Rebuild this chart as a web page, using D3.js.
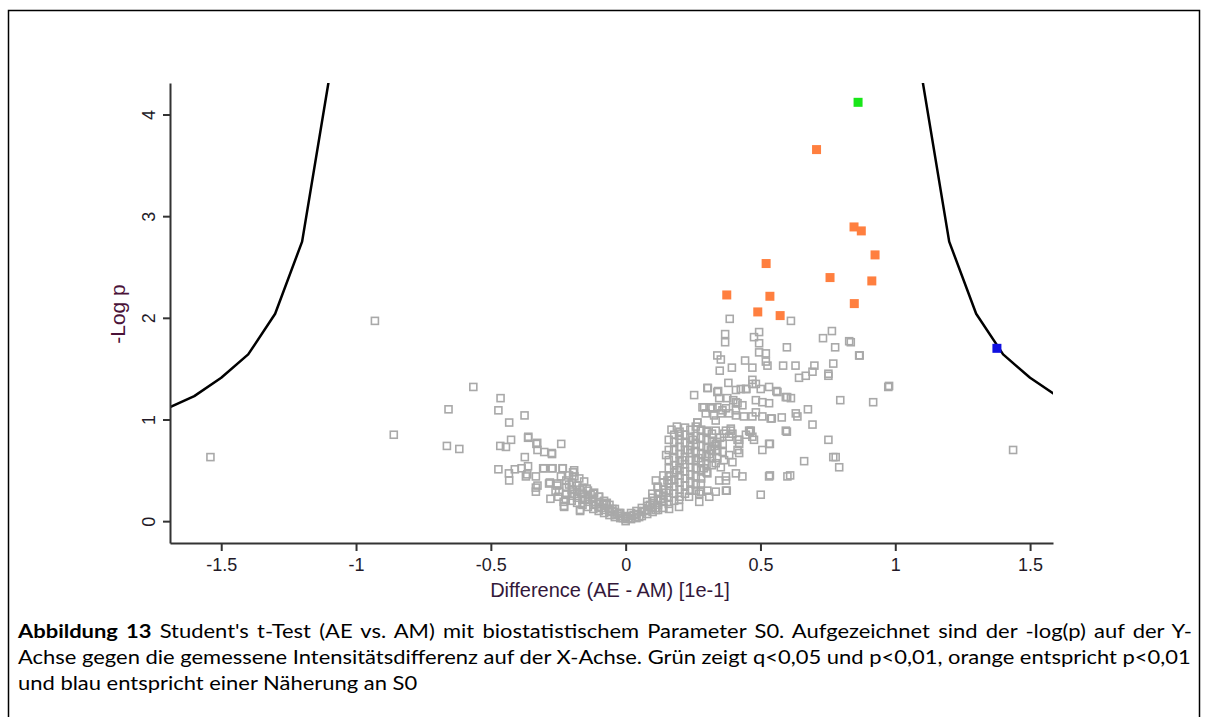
<!DOCTYPE html>
<html>
<head>
<meta charset="utf-8">
<script src="https://cdn.jsdelivr.net/npm/d3@7"></script>
<style>
  body { margin: 0; background: #fff; }
  svg { display: block; }
</style>
</head>
<body>
<script>
// x ticks and y ticks as printed
const xTicks = [-1.5, -1, -0.5, 0, 0.5, 1, 1.5];
const yTicks = [0, 1, 2, 3, 4];

// S0 curve, left and right branch (x, -log p)
const curveLeft = [[-1.7, 1.11], [-1.6, 1.23], [-1.5, 1.41], [-1.4, 1.64], [-1.3, 2.04], [-1.2, 2.75], [-1.1, 4.35]];
const curveRight = [[1.1, 4.35], [1.2, 2.75], [1.3, 2.04], [1.4, 1.64], [1.5, 1.41], [1.6, 1.23], [1.7, 1.11]];

// significant points
const greenPoints = [[0.862, 4.12]];
const bluePoints = [[1.377, 1.70]];
const orangePoints = [
  [0.708, 3.655], [0.847, 2.894], [0.874, 2.855], [0.925, 2.619], [0.521, 2.534], [0.758, 2.396],
  [0.913, 2.363], [0.375, 2.225], [0.535, 2.212], [0.848, 2.14], [0.49, 2.058], [0.573, 2.022]
];

// non significant proteins
const grayPoints = [
  [-1.54, 0.63], [-0.93, 1.97], [-0.86, 0.85],
  [-0.565, 1.32], [-0.657, 1.10], [-0.464, 1.21], [-0.472, 1.09], [-0.432, 0.97], [-0.375, 1.04],
  [-0.663, 0.74], [-0.617, 0.71], [-0.465, 0.74], [-0.444, 0.73], [-0.425, 0.80], [-0.362, 0.82],
  [-0.331, 0.76], [-0.327, 0.70], [-0.302, 0.68], [-0.273, 0.66], [-0.239, 0.76], [-0.374, 0.63],
  [-0.472, 0.51], [-0.433, 0.47], [-0.432, 0.40], [-0.411, 0.51], [-0.386, 0.52], [-0.362, 0.54],
  [-0.365, 0.46], [-0.370, 0.44], [-0.333, 0.33], [-0.333, 0.29], [-0.303, 0.52], [-0.271, 0.52],
  [-0.233, 0.52], [-0.281, 0.38], [-0.279, 0.22], [-0.254, 0.35], [-0.229, 0.15], [-0.169, 0.10],
  [-0.195, 0.48], [-0.172, 0.42], [-0.154, 0.39], [-0.144, 0.32], [-0.117, 0.28], [-0.098, 0.24],
  [-0.073, 0.17], [-0.049, 0.12], [-0.024, 0.08], [0.0, 0.04],
  [-0.361, 0.83], [-0.328, 0.77], [-0.274, 0.67], [-0.333, 0.44], [-0.327, 0.35], [-0.306, 0.52],
  [-0.274, 0.52], [-0.234, 0.52], [-0.284, 0.37], [-0.253, 0.37], [-0.247, 0.29], [-0.222, 0.21],
  [-0.228, 0.14], [-0.191, 0.50], [-0.169, 0.11],
  // left arm of the V
  [-0.22, 0.40], [-0.22, 0.33], [-0.22, 0.27],
  [-0.20, 0.38], [-0.20, 0.31], [-0.20, 0.25], [-0.20, 0.20],
  [-0.18, 0.35], [-0.18, 0.29], [-0.18, 0.23], [-0.18, 0.18],
  [-0.16, 0.33], [-0.16, 0.27], [-0.16, 0.21], [-0.16, 0.16],
  [-0.14, 0.30], [-0.14, 0.24], [-0.14, 0.19], [-0.14, 0.14],
  [-0.12, 0.27], [-0.12, 0.22], [-0.12, 0.16], [-0.12, 0.12],
  [-0.10, 0.24], [-0.10, 0.19], [-0.10, 0.14], [-0.10, 0.10],
  [-0.08, 0.20], [-0.08, 0.16], [-0.08, 0.11], [-0.08, 0.08],
  [-0.06, 0.16], [-0.06, 0.12], [-0.06, 0.09], [-0.06, 0.06],
  [-0.04, 0.12], [-0.04, 0.09], [-0.04, 0.06], [-0.04, 0.04],
  [-0.02, 0.08], [-0.02, 0.05], [-0.02, 0.03],
  [0.00, 0.05], [0.00, 0.02], [0.00, 0.00],
  [-0.21, 0.36], [-0.19, 0.27], [-0.17, 0.31], [-0.15, 0.22], [-0.13, 0.26], [-0.11, 0.17],
  [-0.09, 0.13], [-0.07, 0.18], [-0.05, 0.10], [-0.03, 0.07], [-0.01, 0.03], [-0.26, 0.30],
  [-0.25, 0.24], [-0.24, 0.44], [-0.21, 0.45], [-0.19, 0.44], [-0.23, 0.19],
  // right arm of the V
  [0.02, 0.02], [0.02, 0.05], [0.02, 0.08],
  [0.04, 0.03], [0.04, 0.07], [0.04, 0.10],
  [0.06, 0.05], [0.06, 0.09], [0.06, 0.13],
  [0.08, 0.07], [0.08, 0.11], [0.08, 0.15], [0.08, 0.19],
  [0.10, 0.09], [0.10, 0.14], [0.10, 0.18], [0.10, 0.23],
  [0.12, 0.11], [0.12, 0.16], [0.12, 0.21], [0.12, 0.27], [0.12, 0.33],
  [0.14, 0.13], [0.14, 0.19], [0.14, 0.25], [0.14, 0.31], [0.14, 0.38], [0.14, 0.45],
  [0.16, 0.17], [0.16, 0.23], [0.16, 0.30], [0.16, 0.37], [0.16, 0.44], [0.16, 0.52], [0.16, 0.60], [0.16, 0.70], [0.16, 0.80],
  [0.18, 0.20], [0.18, 0.27], [0.18, 0.34], [0.18, 0.41], [0.18, 0.48], [0.18, 0.55], [0.18, 0.62], [0.18, 0.70], [0.18, 0.78], [0.18, 0.85],
  [0.20, 0.24], [0.20, 0.31], [0.20, 0.38], [0.20, 0.45], [0.20, 0.52], [0.20, 0.59], [0.20, 0.66], [0.20, 0.73], [0.20, 0.80], [0.20, 0.88],
  [0.22, 0.27], [0.22, 0.35], [0.22, 0.42], [0.22, 0.49], [0.22, 0.56], [0.22, 0.63], [0.22, 0.70], [0.22, 0.77], [0.22, 0.85], [0.22, 0.92],
  [0.24, 0.30], [0.24, 0.38], [0.24, 0.46], [0.24, 0.53], [0.24, 0.60], [0.24, 0.67], [0.24, 0.74], [0.24, 0.82], [0.24, 0.90],
  [0.26, 0.36], [0.26, 0.44], [0.26, 0.52], [0.26, 0.60], [0.26, 0.68], [0.26, 0.76], [0.26, 0.84], [0.26, 0.93],
  [0.28, 0.42], [0.28, 0.50], [0.28, 0.58], [0.28, 0.66], [0.28, 0.74], [0.28, 0.82], [0.28, 0.90],
  [0.30, 0.48], [0.30, 0.56], [0.30, 0.64], [0.30, 0.72], [0.30, 0.80], [0.30, 0.88],
  [0.32, 0.55], [0.32, 0.62], [0.32, 0.70], [0.32, 0.78], [0.32, 0.86],
  [0.34, 0.62], [0.34, 0.70], [0.34, 0.78],
  [0.36, 0.68], [0.36, 0.76],
  [0.01, 0.03], [0.03, 0.06], [0.05, 0.04], [0.07, 0.10], [0.09, 0.16], [0.11, 0.13], [0.13, 0.22],
  [0.15, 0.28], [0.17, 0.40], [0.19, 0.50], [0.21, 0.60], [0.23, 0.70], [0.25, 0.80], [0.27, 0.62],
  [0.29, 0.52], [0.31, 0.66], [0.33, 0.74], [0.35, 0.82], [0.15, 0.65], [0.17, 0.90], [0.19, 0.93],
  // shoulder edges
  [0.303, 0.30], [0.347, 0.40], [0.353, 0.53], [0.365, 0.60], [0.384, 0.65], [0.421, 0.76], [0.415, 0.70],
  [0.365, 0.86], [0.39, 0.89], [0.446, 0.85], [0.464, 0.89], [0.334, 0.76], [0.316, 0.70], [0.334, 0.57],
  [0.303, 0.47], [0.279, 0.37], [0.260, 0.30], [0.235, 0.24], [0.198, 0.21], [0.161, 0.12], [0.112, 0.11],
  [0.155, 0.40], [0.112, 0.40], [0.118, 0.34], [0.099, 0.27],
  // upper part of the right cloud
  [0.254, 1.24], [0.303, 1.31], [0.340, 1.27], [0.381, 1.36], [0.409, 1.29], [0.446, 1.30], [0.470, 1.35],
  [0.501, 1.30], [0.532, 1.32], [0.563, 1.27], [0.594, 1.22], [0.377, 1.21], [0.409, 1.17], [0.433, 1.14],
  [0.483, 1.19], [0.507, 1.17], [0.532, 1.16], [0.291, 1.12], [0.316, 1.12], [0.340, 1.12], [0.372, 1.11],
  [0.297, 1.06], [0.328, 1.04], [0.353, 1.06], [0.384, 1.06], [0.409, 1.04], [0.439, 1.03], [0.470, 1.03],
  [0.483, 1.07], [0.507, 1.03], [0.538, 1.01], [0.579, 1.02], [0.594, 0.89], [0.266, 0.97], [0.334, 0.99],
  [0.279, 0.89], [0.303, 0.89], [0.334, 0.89], [0.372, 0.89], [0.396, 0.86], [0.415, 0.80], [0.458, 0.89],
  [0.470, 0.83], [0.507, 0.70], [0.535, 0.76], [0.396, 0.58], [0.372, 0.44], [0.372, 0.30], [0.334, 0.29],
  [0.273, 0.19], [0.273, 0.27], [0.198, 0.14], [0.532, 0.44], [0.501, 0.26], [0.600, 0.44],
  [0.386, 1.99], [0.613, 1.97], [0.495, 1.86], [0.476, 1.81], [0.369, 1.84], [0.369, 1.76], [0.495, 1.75],
  [0.495, 1.66], [0.520, 1.65], [0.598, 1.71], [0.765, 1.87], [0.732, 1.80], [0.777, 1.71], [0.829, 1.77],
  [0.866, 1.63], [0.340, 1.63], [0.353, 1.59], [0.443, 1.58], [0.520, 1.57], [0.526, 1.53], [0.470, 1.51],
  [0.394, 1.51], [0.349, 1.48], [0.584, 1.53], [0.630, 1.53], [0.700, 1.53], [0.693, 1.47], [0.668, 1.43],
  [0.643, 1.41], [0.752, 1.45], [0.752, 1.43], [0.770, 1.55], [0.305, 1.31], [0.343, 1.28], [0.470, 1.39],
  [0.483, 1.35], [0.427, 1.30], [0.448, 1.30], [0.559, 1.28], [0.599, 1.22], [0.613, 1.21], [0.796, 1.19],
  [0.918, 1.17], [0.974, 1.32], [0.676, 1.10], [0.631, 1.06], [0.637, 1.03], [0.542, 1.01], [0.693, 0.95],
  [0.598, 0.88], [0.752, 0.80], [0.779, 0.63], [0.770, 0.63], [0.792, 0.53], [0.662, 0.59], [0.532, 0.76],
  [0.535, 0.45], [0.610, 0.45], [0.285, 1.12], [0.322, 1.11], [0.359, 1.09], [0.409, 1.09], [0.347, 1.21],
  [0.399, 1.19], [0.415, 1.16], [0.390, 0.91], [0.384, 0.83], [0.421, 0.80], [0.421, 0.67], [0.476, 0.80],
  [0.461, 0.88], [0.198, 0.84], [0.266, 0.97], [0.372, 0.40], [0.375, 0.30], [0.279, 0.29], [0.310, 0.24],
  [0.433, 0.44], [0.409, 0.47], [0.835, 1.76], [0.868, 1.63], [0.977, 1.33], [1.437, 0.70]
];

// caption lines (first line starts with the bold figure number)
const captionLabel = 'Abbildung 13';
const captionLines = [
  " Student's t-Test (AE vs. AM) mit biostatistischem Parameter S0. Aufgezeichnet sind der -log(p) auf der Y-",
  'Achse gegen die gemessene Intensitätsdifferenz auf der X-Achse. Grün zeigt q<0,05 und p<0,01, orange entspricht p<0,01',
  'und blau entspricht einer Näherung an S0'
];

const W = 1206, H = 717;
const plot = { left: 170, right: 1053, top: 83, bottom: 543 };
const axisFont = 'Liberation Sans, Arial, sans-serif';

const svg = d3.select('body').append('svg').attr('width', W).attr('height', H);

// figure frame
svg.append('rect')
  .attr('x', 8.5).attr('y', 10.5)
  .attr('width', 1191).attr('height', 730)
  .style('fill', 'none').style('stroke', '#000').style('stroke-width', 1.5);

const x = d3.scaleLinear().domain([-1.69, 1.585]).range([plot.left, plot.right]);
const y = d3.scaleLinear().domain([-0.215, 4.31]).range([plot.bottom, plot.top]);

svg.append('clipPath').attr('id', 'plotclip')
  .append('rect')
  .attr('x', plot.left).attr('y', plot.top)
  .attr('width', plot.right - plot.left).attr('height', plot.bottom - plot.top);

// gray squares
const s = 7;
svg.append('g')
  .selectAll('rect')
  .data(grayPoints)
  .enter()
  .append('rect')
  .attr('x', d => x(d[0]) - s / 2)
  .attr('y', d => y(d[1]) - s / 2)
  .attr('width', s).attr('height', s)
  .style('fill', 'none')
  .style('stroke', '#a9a9a9')
  .style('stroke-width', 1.6);

// S0 curve
const line = d3.line().x(d => x(d[0])).y(d => y(d[1]));
const curves = svg.append('g').attr('clip-path', 'url(#plotclip)');
for (const c of [curveLeft, curveRight]) {
  curves.append('path')
    .attr('d', line(c))
    .style('fill', 'none')
    .style('stroke', '#000')
    .style('stroke-width', 2.5)
    .style('stroke-linejoin', 'round');
}

function filledSquares(points, color) {
  const f = 9;
  svg.append('g')
    .selectAll('rect')
    .data(points)
    .enter()
    .append('rect')
    .attr('x', d => x(d[0]) - f / 2)
    .attr('y', d => y(d[1]) - f / 2)
    .attr('width', f).attr('height', f)
    .style('fill', color);
}
filledSquares(orangePoints, '#ff7f3f');
filledSquares(greenPoints, '#19e619');
filledSquares(bluePoints, '#1010e0');

// axes
const xAxis = svg.append('g')
  .attr('transform', `translate(0,${plot.bottom})`)
  .call(d3.axisBottom(x).tickValues(xTicks).tickFormat(d => String(d)).tickSize(8).tickSizeOuter(0).tickPadding(7));
const yAxis = svg.append('g')
  .attr('transform', `translate(${plot.left},0)`)
  .call(d3.axisLeft(y).tickValues(yTicks).tickFormat(d => String(d)).tickSize(7).tickSizeOuter(0));

for (const a of [xAxis, yAxis]) {
  a.select('.domain').style('stroke', '#333').style('stroke-width', 2);
  a.selectAll('.tick line').style('stroke', '#333').style('stroke-width', 2);
  a.selectAll('.tick text')
    .style('font-family', axisFont)
    .style('font-size', '18px')
    .style('fill', '#231a28');
}
yAxis.selectAll('.tick text')
  .attr('x', null).attr('dy', null)
  .attr('text-anchor', 'middle')
  .attr('transform', 'translate(-21,0) rotate(-90)')
  .attr('dy', '0.35em');

// axis titles
svg.append('text')
  .attr('x', 610).attr('y', 597)
  .attr('text-anchor', 'middle')
  .style('font-family', axisFont)
  .style('font-size', '20px')
  .style('fill', '#33183a')
  .text('Difference (AE - AM) [1e-1]');

svg.append('text')
  .attr('transform', 'translate(125,314) rotate(-90)')
  .attr('text-anchor', 'middle')
  .style('font-family', axisFont)
  .style('font-size', '21px')
  .style('fill', '#4a1238')
  .text('-Log p');

// caption: Lato stretched sideways so the second line fills the width, first line justified
const captionFont = 'Lato, Open Sans, sans-serif';
const capSize = 19;
const capLeft = 18, capRight = 1192, capTop = 638, capStep = 26;

const probe = svg.append('text')
  .style('font-family', captionFont).style('font-size', capSize + 'px')
  .text(captionLines[1]);
const stretch = (capRight - capLeft) / probe.node().getComputedTextLength();
probe.remove();

captionLines.forEach((txt, i) => {
  const t = svg.append('text')
    .attr('transform', `translate(${capLeft},${capTop + i * capStep}) scale(${stretch},1)`)
    .style('font-family', captionFont)
    .style('font-size', capSize + 'px')
    .style('fill', '#000');
  if (i === 0) t.append('tspan').style('font-weight', 'bold').text(captionLabel);
  t.append('tspan').text(txt);
  if (i === 0) {
    const full = captionLabel + txt;
    const spaces = (full.match(/ /g) || []).length;
    const extra = (capRight - capLeft) / stretch - t.node().getComputedTextLength();
    t.style('word-spacing', (extra / spaces) + 'px');
  }
});
</script>
</body>
</html>
